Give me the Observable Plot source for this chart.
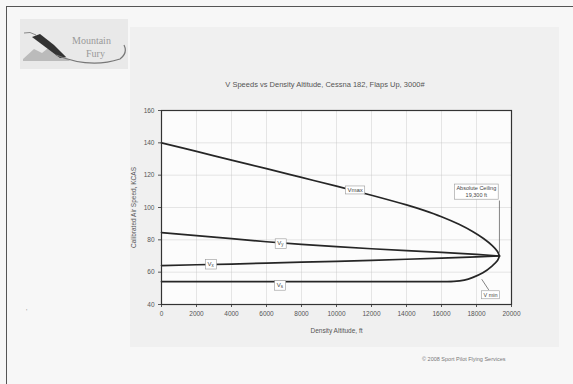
<!DOCTYPE html>
<html><head><meta charset="utf-8">
<script src="https://cdn.jsdelivr.net/npm/d3@7"></script>
<script src="https://cdn.jsdelivr.net/npm/@observablehq/plot@0.6"></script>
<style>
html,body{margin:0;padding:0;background:#f6f6f6;}
#page{position:relative;width:573px;height:384px;overflow:hidden;font-family:"Liberation Sans",Arial,sans-serif;background:#f7f7f7;}
#frameTop{position:absolute;left:6px;top:6px;width:567px;height:0;border-top:1.5px solid #555;}
#frameLeft{position:absolute;left:6px;top:6px;width:0;height:378px;border-left:1.5px solid #555;}
#panel{position:absolute;left:130px;top:27px;width:429px;height:320px;background:#f0f0f0;}
#title{position:absolute;left:175px;width:300px;top:80px;text-align:center;font-size:7.5px;line-height:10px;color:#555;}
#chart{position:absolute;left:100px;top:100px;}
#footer{position:absolute;left:422px;top:356px;font-size:5.5px;color:#777;white-space:nowrap;}
#logo{position:absolute;left:20px;top:19px;}
#mark1{position:absolute;left:26px;top:308px;font-size:7px;color:#999;}
</style>
</head><body>
<div id="page">
  <div id="frameTop"></div><div id="frameLeft"></div>
  <div id="panel"></div>
  <svg id="logo" width="108" height="50" viewBox="0 0 108 50">
    <rect x="0" y="0" width="108" height="50" fill="#e9e9e9"/>
    <path d="M3,40 L14,30 L22,34 L32,26 L44,36 L50,42 L3,42 Z" fill="#bbb"/>
    <path d="M4,14 Q10,12 16,16" stroke="#888" stroke-width="1" fill="none"/>
    <path d="M12,18 L20,15 L34,26 L46,38 L40,39 L28,30 Z" fill="#333"/>
    <path d="M36,36 Q70,50 100,40 Q108,34 104,26" stroke="#777" stroke-width="1.2" fill="none"/>
    <text x="52" y="25" font-family="Liberation Serif, serif" font-size="10" fill="#999">Mountain</text>
    <text x="66" y="38" font-family="Liberation Serif, serif" font-size="10" fill="#999">Fury</text>
  </svg>
  <div id="title">V Speeds vs Density Altitude, Cessna 182, Flaps Up, 3000#</div>
  <div id="chart"></div>
  <div id="mark1">'</div>
  <div id="footer">© 2008 Sport Pilot Flying Services</div>
</div>
<script>
// ---- data (density altitude in ft, speeds in KCAS) ----
const xTicks = [0, 2000, 4000, 6000, 8000, 10000, 12000, 14000, 16000, 18000, 20000];
const yTicks = [40, 60, 80, 100, 120, 140, 160];

const vmaxAlt  = [0, 2000, 4000, 6000, 8000, 10000, 12000, 14000, 15000, 16000, 17000, 17800, 18400, 18900, 19200, 19310];
const vmaxKcas = [140, 134.7, 129.3, 124, 118.6, 113.2, 107.6, 101.6, 98.2, 94.3, 89.6, 85, 80.8, 76.4, 72.8, 70];

const vyAlt  = [0, 2000, 4000, 6000, 8000, 10000, 12000, 14000, 16000, 18000, 19310];
const vyKcas = [84.5, 82.6, 80.7, 78.8, 77.2, 75.8, 74.5, 73.3, 72.2, 71, 70];

const vxAlt  = [0, 2000, 4000, 6000, 8000, 10000, 12000, 14000, 16000, 18000, 19310];
const vxKcas = [64.1, 64.6, 65, 65.6, 66.2, 66.7, 67.3, 68, 68.7, 69.4, 70];

const vsAlt  = [0, 4000, 8000, 12000, 16000, 16700, 17300, 17800, 18365, 18886, 19200, 19310];
const vsKcas = [54.2, 54.2, 54.2, 54.2, 54.2, 54.3, 55.1, 56.8, 59.6, 63.8, 67.2, 70];

const lineLabels = ["Vmax", "Vy", "Vx", "Vs"];
const lineLabelAlt = [11060, 6790, 2810, 6760];
const lineLabelKcas = [110.8, 78.1, 65.3, 52.2];

const calloutText = ["Absolute Ceiling\n19,300 ft", "V min"];
const calloutAlt = [17990, 18800];
const calloutKcas = [110, 46.2];

const leaderX1 = [19310, 18300];
const leaderY1 = [104.3, 55.6];
const leaderX2 = [19310, 18700];
const leaderY2 = [72, 49];

const ink = "#262626";
const chart = Plot.plot({
  width: 440, height: 245,
  marginLeft: 61, marginRight: 29, marginTop: 10, marginBottom: 41,
  style: {background: "transparent", fontFamily: "Liberation Sans, Arial, sans-serif", fontSize: "6.5px", color: "#555"},
  x: {domain: [0, 20000]},
  y: {domain: [40, 160]},
  marks: [
    Plot.frame({fill: "#fcfcfc"}),
    Plot.gridX(xTicks, {stroke: "#bbb", strokeOpacity: 0.35}),
    Plot.gridY(yTicks, {stroke: "#bbb", strokeOpacity: 0.35}),
    Plot.axisX(xTicks, {tickFormat: "d", tickSize: 3, tickPadding: 4, label: "Density Altitude, ft", labelAnchor: "center", labelArrow: "none", labelOffset: 28}),
    Plot.axisY(yTicks, {tickFormat: "d", tickSize: 3, tickPadding: 4, label: "Calibrated Air Speed, KCAS", labelAnchor: "center", labelArrow: "none", labelOffset: 30}),
    Plot.line(vmaxKcas, {x: vmaxAlt, y: vmaxKcas, stroke: ink, strokeWidth: 1.7, curve: "catmull-rom"}),
    Plot.line(vyKcas, {x: vyAlt, y: vyKcas, stroke: ink, strokeWidth: 1.7}),
    Plot.line(vxKcas, {x: vxAlt, y: vxKcas, stroke: ink, strokeWidth: 1.7}),
    Plot.line(vsKcas, {x: vsAlt, y: vsKcas, stroke: ink, strokeWidth: 1.7, curve: "catmull-rom"}),
    Plot.link(leaderX1, {x1: leaderX1, y1: leaderY1, x2: leaderX2, y2: leaderY2, stroke: "#666", strokeWidth: 0.8}),
    Plot.frame({stroke: "#333", strokeWidth: 1.2}),
    Plot.text(lineLabels, {x: lineLabelAlt, y: lineLabelKcas, text: lineLabels, fontSize: 6, fill: "#444"}),
    Plot.text(calloutText, {x: calloutAlt, y: calloutKcas, text: calloutText, fontSize: 5.5, lineHeight: 1.3, fill: "#444"})
  ]
});
document.getElementById("chart").appendChild(chart);

// subscripts and boxes for the in-chart labels
const boxed = new Set([...lineLabels, ...calloutText.map(s => s.replace("\n", ""))]);
Array.from(chart.querySelectorAll("text")).forEach(t => {
  const s = t.textContent;
  if (!boxed.has(s)) return;
  if (/^V[xys]$/.test(s)) {
    t.textContent = "V";
    const sub = document.createElementNS("http://www.w3.org/2000/svg", "tspan");
    sub.setAttribute("font-size", "4.5");
    sub.setAttribute("dy", "1.5");
    sub.textContent = s.slice(1);
    t.appendChild(sub);
  }
  const b = t.getBBox();
  const r = document.createElementNS("http://www.w3.org/2000/svg", "rect");
  r.setAttribute("x", b.x - 2); r.setAttribute("y", b.y - 1);
  r.setAttribute("width", b.width + 4); r.setAttribute("height", b.height + 2);
  r.setAttribute("fill", "white"); r.setAttribute("stroke", "#999"); r.setAttribute("stroke-width", "0.6");
  const tr = t.getAttribute("transform");
  if (tr) r.setAttribute("transform", tr);
  t.parentNode.insertBefore(r, t);
});
</script>
</body></html>
